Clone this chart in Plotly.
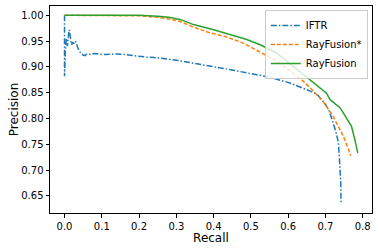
import plotly.graph_objects as go

# IFTR
iftr_recall = [0.0, 0.0, 0.002, 0.005, 0.008, 0.011, 0.013, 0.016, 0.019, 0.022, 0.025, 0.028,
               0.031, 0.035, 0.040, 0.045, 0.050, 0.055, 0.060, 0.070, 0.080, 0.100, 0.120,
               0.140, 0.160, 0.180, 0.200, 0.220, 0.240, 0.260, 0.300, 0.350, 0.400, 0.450,
               0.500, 0.550, 0.600, 0.630, 0.660, 0.680, 0.700, 0.710, 0.720, 0.728, 0.735,
               0.739, 0.741, 0.742]
iftr_precision = [1.0, 0.882, 0.930, 0.955, 0.940, 0.965, 0.972, 0.955, 0.943, 0.948, 0.945, 0.950,
                  0.948, 0.938, 0.930, 0.926, 0.923, 0.922, 0.925, 0.924, 0.926, 0.924, 0.925,
                  0.925, 0.924, 0.922, 0.921, 0.919, 0.918, 0.917, 0.913, 0.907, 0.900, 0.894,
                  0.887, 0.880, 0.870, 0.862, 0.853, 0.845, 0.828, 0.815, 0.795, 0.775, 0.753,
                  0.715, 0.680, 0.635]

# RayFusion*
rfs_recall = [0.0, 0.05, 0.10, 0.15, 0.20, 0.25, 0.28, 0.31, 0.346, 0.39, 0.435, 0.48, 0.525,
              0.55, 0.57, 0.614, 0.641, 0.668, 0.694, 0.708, 0.72, 0.73, 0.748, 0.762, 0.768]
rfs_precision = [1.0, 1.0, 1.0, 1.0, 0.999, 0.996, 0.993, 0.988, 0.977, 0.966, 0.958, 0.946, 0.929,
                 0.919, 0.911, 0.888, 0.872, 0.853, 0.833, 0.818, 0.805, 0.791, 0.766, 0.740, 0.728]

# RayFusion
rf_recall = [0.0, 0.05, 0.10, 0.15, 0.20, 0.25, 0.28, 0.31, 0.346, 0.40, 0.444, 0.489, 0.525,
             0.551, 0.569, 0.614, 0.659, 0.686, 0.703, 0.712, 0.739, 0.748, 0.770, 0.779, 0.787]
rf_precision = [1.0, 1.0, 1.0, 1.0, 1.0, 0.998, 0.996, 0.992, 0.982, 0.972, 0.963, 0.953, 0.943,
                0.934, 0.927, 0.901, 0.875, 0.858, 0.849, 0.837, 0.821, 0.811, 0.785, 0.759, 0.733]

x_ticks = [0.0, 0.1, 0.2, 0.3, 0.4, 0.5, 0.6, 0.7, 0.8]
y_ticks = [0.65, 0.70, 0.75, 0.80, 0.85, 0.90, 0.95, 1.00]

FONT = "DejaVu Sans"

fig = go.Figure()
fig.add_trace(go.Scatter(x=iftr_recall, y=iftr_precision, mode="lines", name="IFTR",
                         line=dict(color="#1f77b4", width=1.5, dash="6px,2px,1.5px,2px")))
fig.add_trace(go.Scatter(x=rfs_recall, y=rfs_precision, mode="lines", name="RayFusion*",
                         line=dict(color="#ff7f0e", width=1.5, dash="4px,2px")))
fig.add_trace(go.Scatter(x=rf_recall, y=rf_precision, mode="lines", name="RayFusion",
                         line=dict(color="#2ca02c", width=1.5)))

axis_common = dict(showline=True, mirror=True, linecolor="black", linewidth=1,
                   ticks="outside", ticklen=3.5, tickwidth=1, tickcolor="black",
                   showgrid=False, zeroline=False, automargin=False,
                   tickfont=dict(family=FONT, size=10, color="black"))

fig.update_layout(
    width=379, height=251,
    margin=dict(l=50, r=7, t=6, b=38),
    paper_bgcolor="white", plot_bgcolor="white",
    font=dict(family=FONT, size=10, color="black"),
    xaxis=dict(range=[-0.039, 0.825], tickvals=x_ticks,
               ticktext=[f"{v:.1f}" for v in x_ticks],
               title=dict(text="Recall", font=dict(family=FONT, size=12, color="black"), standoff=0),
               **axis_common),
    yaxis=dict(range=[0.617, 1.018], tickvals=y_ticks,
               ticktext=[f"{v:.2f}" for v in y_ticks],
               title=dict(text="Precision", font=dict(family=FONT, size=12, color="black"), standoff=0),
               **axis_common),
    legend=dict(x=0.987, y=0.981, xanchor="right", yanchor="top",
                bgcolor="rgba(255,255,255,0.8)", bordercolor="#cccccc", borderwidth=1,
                font=dict(family=FONT, size=10, color="black"),
                itemwidth=30, tracegroupgap=0),
    showlegend=True,
)

fig.write_html("out.html", config={"displayModeBar": False},
               post_script="document.body.style.margin='0';document.body.style.overflow='hidden';")
